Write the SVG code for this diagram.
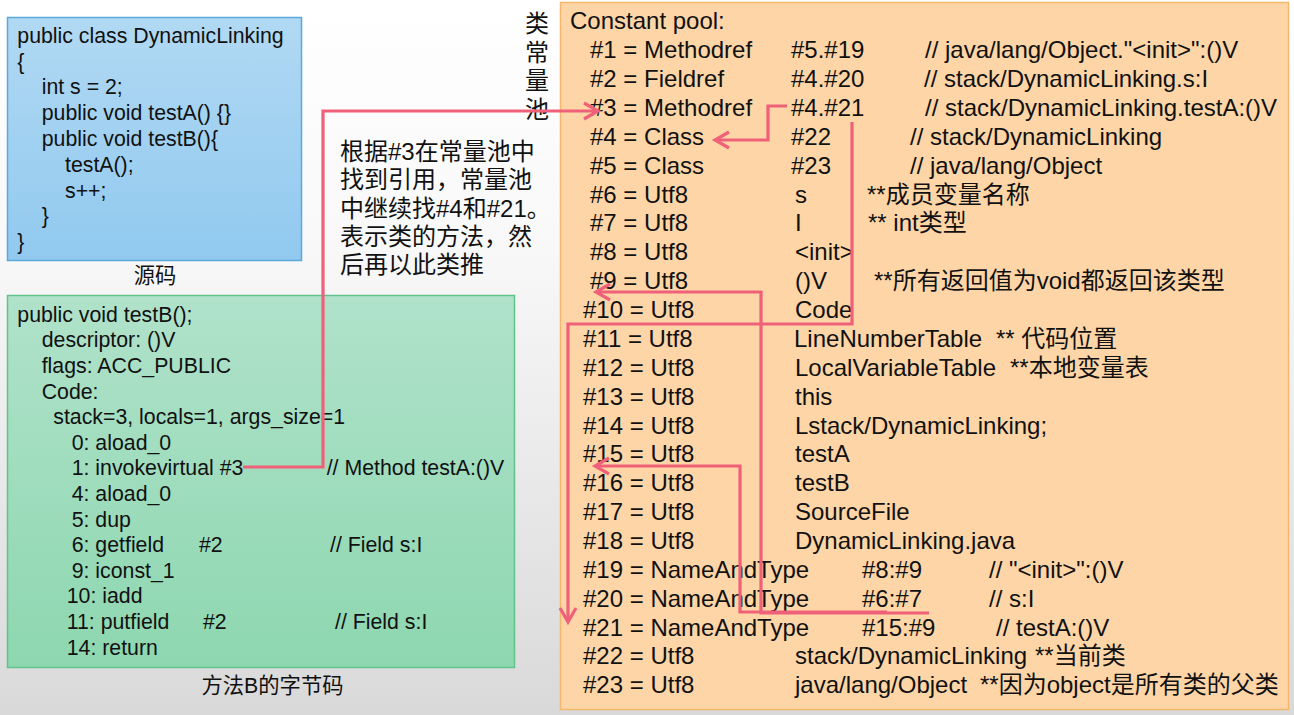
<svg xmlns="http://www.w3.org/2000/svg" width="1294" height="715" viewBox="0 0 1294 715">
<defs>
<linearGradient id="bg" x1="0" y1="0" x2="0" y2="1">
<stop offset="0" stop-color="#ffffff"/>
<stop offset="0.35" stop-color="#f8f8f8"/>
<stop offset="1" stop-color="#d9d9d9"/>
</linearGradient>
<linearGradient id="gBlue" x1="0" y1="0" x2="0" y2="1">
<stop offset="0" stop-color="#b1d9f3"/>
<stop offset="1" stop-color="#91c9ef"/>
</linearGradient>
<linearGradient id="gGreen" x1="0" y1="0" x2="0" y2="1">
<stop offset="0" stop-color="#b0e2ca"/>
<stop offset="1" stop-color="#8dd7b0"/>
</linearGradient>
<marker id="arr" markerUnits="userSpaceOnUse" markerWidth="22" markerHeight="22" refX="17" refY="10" orient="auto">
<path d="M3,2 L17,10 L3,18" fill="none" stroke="#ef6179" stroke-width="3.2"/>
</marker>
<style>
.t{font-family:"Liberation Sans","Noto Sans CJK SC",sans-serif;fill:#111;}
.s{font-size:21.3px;}
.m{font-size:24px;}
.c{font-size:21.3px;text-anchor:middle;}
.v{font-size:24px;text-anchor:middle;}
.link{fill:none;stroke:#ef6179;stroke-width:3.2;stroke-linejoin:miter;}
</style>
</defs>
<rect x="0" y="0" width="1294" height="715" fill="url(#bg)"/>

<g id="source">
<rect x="7.5" y="17.5" width="294" height="243" fill="url(#gBlue)" stroke="#5aa9dd" stroke-width="1.5"/>
<text class="t s" x="17.3" y="42.7">public class DynamicLinking</text>
<text class="t s" x="17.3" y="68.5">{</text>
<text class="t s" x="41.7" y="94.3">int s = 2;</text>
<text class="t s" x="41.7" y="120">public void testA() {}</text>
<text class="t s" x="41.7" y="146">public void testB(){</text>
<text class="t s" x="65" y="172">testA();</text>
<text class="t s" x="65" y="197.5">s++;</text>
<text class="t s" x="41.7" y="223.3">}</text>
<text class="t s" x="17.3" y="249">}</text>
</g>
<g id="source-caption">
<text class="t c" x="155" y="283">源码</text>
</g>

<g id="bytecode">
<rect x="7.5" y="295.5" width="507" height="372" fill="url(#gGreen)" stroke="#5fc38b" stroke-width="1.5"/>
<text class="t s" x="17.3" y="321.7">public void testB();</text>
<text class="t s" x="41.7" y="347.3">descriptor: ()V</text>
<text class="t s" x="41.7" y="372.9">flags: ACC_PUBLIC</text>
<text class="t s" x="41.7" y="398.5">Code:</text>
<text class="t s" x="53.3" y="424.1">stack=3, locals=1, args_size=1</text>
<text class="t s" x="71.7" y="449.7">0: aload_0</text>
<text class="t s" x="71.7" y="475.3">1: invokevirtual #3</text>
<text class="t s" x="326.7" y="475.3">// Method testA:()V</text>
<text class="t s" x="71.7" y="500.9">4: aload_0</text>
<text class="t s" x="71.7" y="526.5">5: dup</text>
<text class="t s" x="71.7" y="552.1">6: getfield</text>
<text class="t s" x="199" y="552.1">#2</text>
<text class="t s" x="330" y="552.1">// Field s:I</text>
<text class="t s" x="71.7" y="577.7">9: iconst_1</text>
<text class="t s" x="66.7" y="603.3">10: iadd</text>
<text class="t s" x="66.7" y="628.9">11: putfield</text>
<text class="t s" x="203" y="628.9">#2</text>
<text class="t s" x="335" y="628.9">// Field s:I</text>
<text class="t s" x="66.7" y="654.5">14: return</text>
</g>
<g id="bytecode-caption">
<text class="t c" x="272.5" y="693">方法B的字节码</text>
</g>

<g id="note">
<text class="t m" x="340" y="160">根据#3在常量池中</text>
<text class="t m" x="340" y="188.3">找到引用，常量池</text>
<text class="t m" x="340" y="216.6">中继续找#4和#21。</text>
<text class="t m" x="340" y="245">表示类的方法，然</text>
<text class="t m" x="340" y="273.3">后再以此类推</text>
</g>

<g id="pool-label">
<text class="t v" x="537" y="32">类</text>
<text class="t v" x="537" y="60.5">常</text>
<text class="t v" x="537" y="89">量</text>
<text class="t v" x="537" y="117.5">池</text>
</g>

<g id="constant-pool">
<rect x="560.5" y="2.5" width="728" height="707" fill="#fed5a6" stroke="#f4b76b" stroke-width="1.5"/>
<text class="t m" x="570" y="29.3">Constant pool:</text>
<text class="t m" x="590" y="58.2">#1 = Methodref</text>
<text class="t m" x="791" y="58.2">#5.#19</text>
<text class="t m" x="925" y="58.2">// java/lang/Object."&lt;init&gt;":()V</text>
<text class="t m" x="590" y="87">#2 = Fieldref</text>
<text class="t m" x="791" y="87">#4.#20</text>
<text class="t m" x="924" y="87">// stack/DynamicLinking.s:I</text>
<text class="t m" x="590" y="115.9">#3 = Methodref</text>
<text class="t m" x="791" y="115.9">#4.#21</text>
<text class="t m" x="925" y="115.9">// stack/DynamicLinking.testA:()V</text>
<text class="t m" x="590" y="144.8">#4 = Class</text>
<text class="t m" x="791" y="144.8">#22</text>
<text class="t m" x="910" y="144.8">// stack/DynamicLinking</text>
<text class="t m" x="590" y="173.7">#5 = Class</text>
<text class="t m" x="791" y="173.7">#23</text>
<text class="t m" x="910" y="173.7">// java/lang/Object</text>
<text class="t m" x="590" y="202.5">#6 = Utf8</text>
<text class="t m" x="795" y="202.5">s</text>
<text class="t m" x="867" y="202.5">**成员变量名称</text>
<text class="t m" x="590" y="231.4">#7 = Utf8</text>
<text class="t m" x="795" y="231.4">I</text>
<text class="t m" x="868" y="231.4">** int类型</text>
<text class="t m" x="590" y="260.3">#8 = Utf8</text>
<text class="t m" x="795" y="260.3">&lt;init&gt;</text>
<text class="t m" x="590" y="289.1">#9 = Utf8</text>
<text class="t m" x="795" y="289.1">()V</text>
<text class="t m" x="874" y="289.1">**所有返回值为void都返回该类型</text>
<text class="t m" x="583" y="318">#10 = Utf8</text>
<text class="t m" x="795" y="318">Code</text>
<text class="t m" x="583" y="346.9">#11 = Utf8</text>
<text class="t m" x="794" y="346.9">LineNumberTable</text>
<text class="t m" x="996" y="346.9">** 代码位置</text>
<text class="t m" x="583" y="375.7">#12 = Utf8</text>
<text class="t m" x="795" y="375.7">LocalVariableTable</text>
<text class="t m" x="1010" y="375.7">**本地变量表</text>
<text class="t m" x="583" y="404.6">#13 = Utf8</text>
<text class="t m" x="795" y="404.6">this</text>
<text class="t m" x="583" y="433.5">#14 = Utf8</text>
<text class="t m" x="795" y="433.5">Lstack/DynamicLinking;</text>
<text class="t m" x="583" y="462.3">#15 = Utf8</text>
<text class="t m" x="795" y="462.3">testA</text>
<text class="t m" x="583" y="491.2">#16 = Utf8</text>
<text class="t m" x="795" y="491.2">testB</text>
<text class="t m" x="583" y="520.1">#17 = Utf8</text>
<text class="t m" x="795" y="520.1">SourceFile</text>
<text class="t m" x="583" y="548.9">#18 = Utf8</text>
<text class="t m" x="795" y="548.9">DynamicLinking.java</text>
<text class="t m" x="583" y="577.8">#19 = NameAndType</text>
<text class="t m" x="862" y="577.8">#8:#9</text>
<text class="t m" x="989" y="577.8">// "&lt;init&gt;":()V</text>
<text class="t m" x="583" y="606.7">#20 = NameAndType</text>
<text class="t m" x="862" y="606.7">#6:#7</text>
<text class="t m" x="989" y="606.7">// s:I</text>
<text class="t m" x="583" y="635.5">#21 = NameAndType</text>
<text class="t m" x="862" y="635.5">#15:#9</text>
<text class="t m" x="996" y="635.5">// testA:()V</text>
<text class="t m" x="583" y="664.4">#22 = Utf8</text>
<text class="t m" x="795" y="664.4">stack/DynamicLinking</text>
<text class="t m" x="1035" y="664.4">**当前类</text>
<text class="t m" x="583" y="693.3">#23 = Utf8</text>
<text class="t m" x="795" y="693.3">java/lang/Object</text>
<text class="t m" x="980" y="693.3">**因为object是所有类的父类</text>
</g>

<g id="connectors">
<path class="link" d="M243,467 H323 V111 H598" marker-end="url(#arr)"/>
<path class="link" d="M787,106 H768 V140 H715" marker-end="url(#arr)"/>
<path class="link" d="M852,122 V324 H568 V622" marker-end="url(#arr)"/>
<path class="link" d="M929,613 H761 V292 H596" marker-end="url(#arr)"/>
<path class="link" d="M887,612 H740 V466 H595" marker-end="url(#arr)"/>
</g>
</svg>
